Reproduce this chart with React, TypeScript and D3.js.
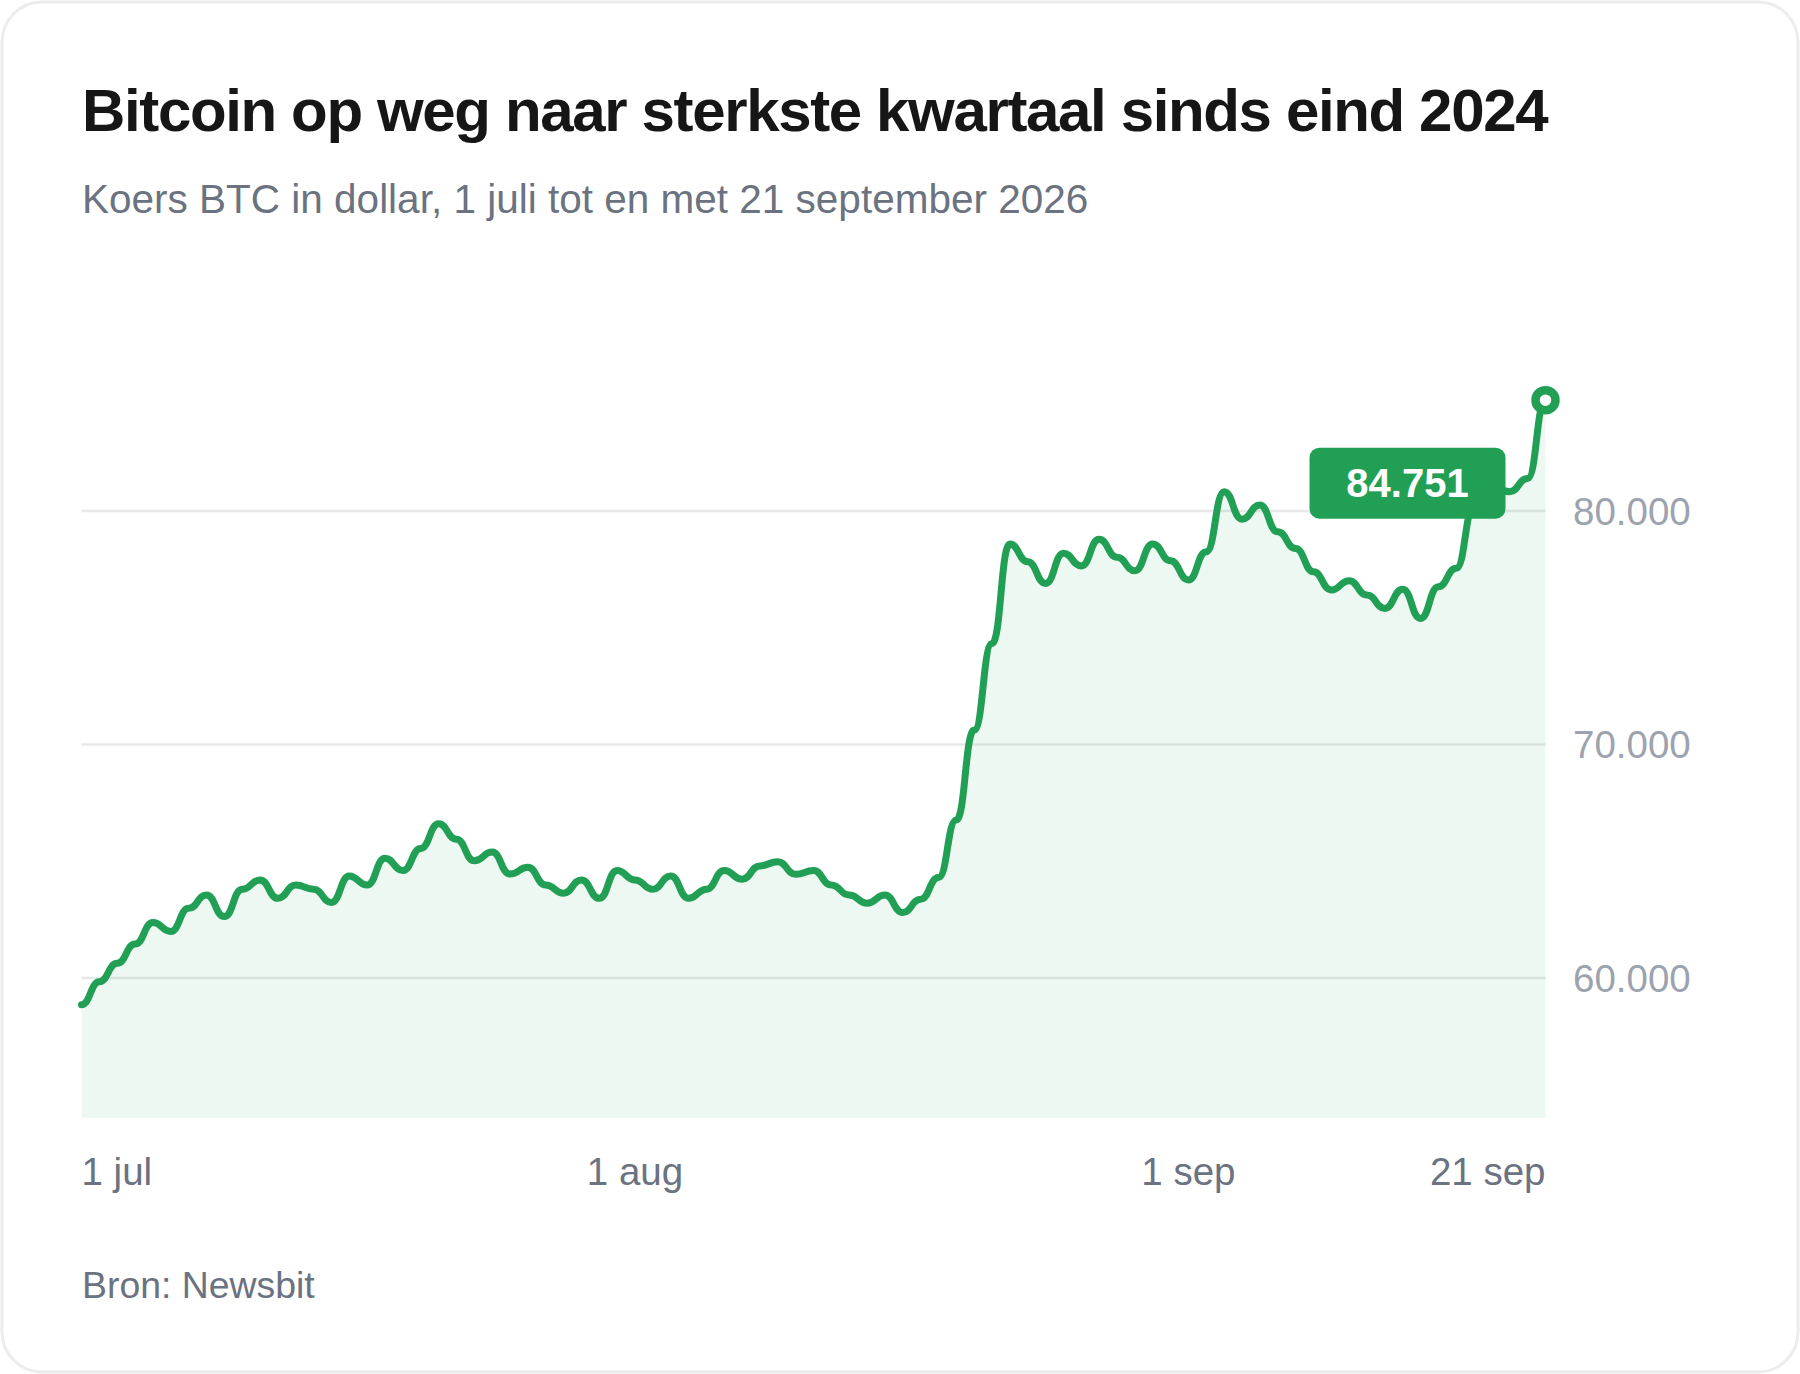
import React from "react";
import * as d3 from "d3";

const title = "Bitcoin op weg naar sterkste kwartaal sinds eind 2024";
const subtitle = "Koers BTC in dollar, 1 juli tot en met 21 september 2026";
const source = "Bron: Newsbit";

const startDate = "2026-07-01";
const prices: number[] = [
  58850, 59840, 60630, 61450, 62370, 61990, 62980, 63550, 62630, 63800,
  64200, 63410, 63980, 63800, 63230, 64370, 63980, 65130, 64600, 65550,
  66600, 65940, 65020, 65390, 64450, 64740, 63980, 63630, 64200, 63410,
  64600, 64200, 63800, 64370, 63410, 63800, 64600, 64230, 64800, 64980,
  64440, 64600, 63980, 63550, 63200, 63550, 62800, 63370, 64300, 66770,
  70620, 74330, 78590, 77830, 76900, 78190, 77650, 78790, 78020, 77440,
  78590, 77870, 77050, 78260, 80830, 79650, 80260, 79110, 78400, 77400,
  76620, 77020, 76400, 75830, 76650, 75400, 76760, 77550, 80200, 81050,
  80830, 81400, 84751,
];

const yTicks: number[] = [60000, 70000, 80000];
const xTickDates: string[] = ["2026-07-01", "2026-08-01", "2026-09-01", "2026-09-21"];
const xTickLabels: string[] = ["1 jul", "1 aug", "1 sep", "21 sep"];

const GREEN = "#21a055";
const FONT = "'Liberation Sans', Arial, Helvetica, sans-serif";

export default function App() {
  const W = 1800;
  const H = 1374;
  const parse = d3.timeParse("%Y-%m-%d");
  const d0 = parse(startDate) as Date;
  const data = prices.map((v, i) => ({ date: d3.timeDay.offset(d0, i), value: v }));
  const last = data[data.length - 1];

  const x = d3.scaleTime().domain([data[0].date, last.date]).range([81.5, 1545.5]);
  const y = d3.scaleLinear().domain([54000, 86000]).range([1118, 371]);

  const line = d3
    .line<{ date: Date; value: number }>()
    .x((d) => x(d.date))
    .y((d) => y(d.value))
    .curve(d3.curveBumpX);
  const area = d3
    .area<{ date: Date; value: number }>()
    .x((d) => x(d.date))
    .y0(y(54000))
    .y1((d) => y(d.value))
    .curve(d3.curveBumpX);

  const fmt = (v: number) => v.toLocaleString("nl-NL");
  const ex = x(last.date);
  const ey = y(last.value);
  const boxW = 196;
  const boxH = 71;
  const boxCx = ex - 138;
  const boxCy = ey + 83;

  return (
    <svg
      width={W}
      height={H}
      viewBox={`0 0 ${W} ${H}`}
      style={{ position: "absolute", left: 0, top: 0, display: "block" }}
      fontFamily={FONT}
    >
      <rect x={0} y={0} width={W} height={H} fill="#ffffff" />
      <rect x={2} y={2} width={W - 4} height={H - 4} rx={40} ry={40} fill="#ffffff" stroke="#ececec" strokeWidth={3} />

      <text x={82} y={131} fontSize={60} fontWeight={700} fill="#161616" letterSpacing={-1.36}>
        {title}
      </text>
      <text x={82} y={213} fontSize={40.5} fill="#6b7280">
        {subtitle}
      </text>

      {yTicks.map((t) => (
        <g key={t}>
          <line x1={81.5} x2={1545.5} y1={y(t)} y2={y(t)} stroke="#e8e8e8" strokeWidth={2.5} />
          <text x={1573} y={y(t)} dy="0.36em" fontSize={38.5} fill="#9ca3af">
            {fmt(t)}
          </text>
        </g>
      ))}

      <path d={area(data) || ""} fill={GREEN} fillOpacity={0.075} />
      <path d={line(data) || ""} fill="none" stroke={GREEN} strokeWidth={7} strokeLinejoin="round" strokeLinecap="round" />

      {xTickDates.map((s, i) => (
        <text
          key={s}
          x={x(parse(s) as Date)}
          y={1185}
          fontSize={38.5}
          fill="#6b7280"
          textAnchor={i === 0 ? "start" : i === xTickDates.length - 1 ? "end" : "middle"}
        >
          {xTickLabels[i]}
        </text>
      ))}

      <rect x={boxCx - boxW / 2} y={boxCy - boxH / 2} width={boxW} height={boxH} rx={10} fill={GREEN} />
      <text x={boxCx} y={boxCy + 14} textAnchor="middle" fontSize={40} fontWeight={700} fill="#ffffff">
        {fmt(last.value)}
      </text>

      <circle cx={ex} cy={ey} r={10} fill="#ffffff" stroke={GREEN} strokeWidth={8.5} />

      <text x={82} y={1298} fontSize={37.4} fill="#6b7280">
        {source}
      </text>
    </svg>
  );
}
